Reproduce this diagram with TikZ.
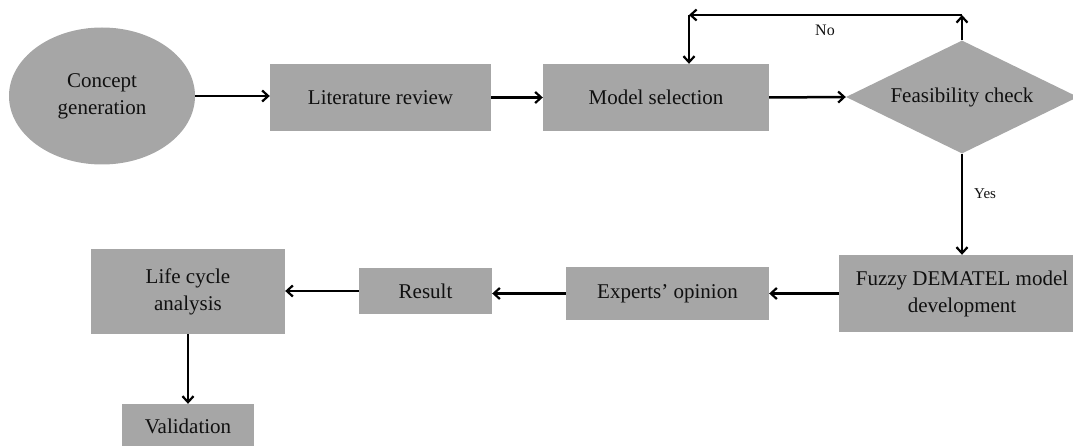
\documentclass[tikz,border=0pt]{standalone}
\usepackage{fontspec}
\setmainfont{Liberation Serif}
\usetikzlibrary{shapes.geometric,arrows.meta}
\definecolor{boxgray}{HTML}{A6A6A6}
\definecolor{txt}{HTML}{101010}
\begin{document}
\begin{tikzpicture}[x=1pt,y=-1pt,
  base/.style={fill=boxgray,draw=none,inner sep=0pt,align=center,text=txt,
    font=\fontsize{21}{27}\selectfont},
  procbox/.style={base,rectangle},
  termshape/.style={base,ellipse},
  decshape/.style={base,diamond,aspect=2.05},
  conn/.style={line width=2.5pt,-{Straight Barb[length=6pt,width=11pt,line width=2.2pt]}},
  lbl/.style={text=txt,inner sep=0pt}
]
\useasboundingbox (0,0) rectangle (1073,446);
\node[termshape,minimum width=186pt,minimum height=137pt] (concept) at (102,96) {Concept\\generation};
\node[procbox,minimum width=221pt,minimum height=67pt] (lit) at (380.5,97.5) {Literature review};
\node[procbox,minimum width=226pt,minimum height=67pt] (model) at (656,97.5) {Model selection};
\node[decshape,minimum width=232pt,minimum height=113pt] (feas) at (962,97) {Feasibility check};
\node[procbox,minimum width=246pt,minimum height=77pt] (fuzzy) at (962,293.5) {Fuzzy DEMATEL model\\development};
\node[procbox,minimum width=203pt,minimum height=53pt] (exp) at (667.5,293.5) {Experts’ opinion};
\node[procbox,minimum width=133pt,minimum height=46pt] (res) at (425.5,291) {Result};
\node[procbox,minimum width=194pt,minimum height=85pt] (lca) at (188,291.5) {Life cycle\\analysis};
\node[procbox,minimum width=132pt,minimum height=44pt] (val) at (188,426) {Validation};

\coordinate (nr) at (962,15);
\coordinate (nl) at (689,15);

\draw[conn] (concept.east) -- (concept.east -| lit.west);
\draw[conn] (lit.east) -- (model.west);
\draw[conn] (model.east) -- (feas.west);
\draw[conn] (feas.north) -- (nr);
\draw[conn] (nr) -- (nl);
\draw[conn] (nl) -- (nl |- model.north);
\draw[conn] (feas.south) -- (fuzzy.north);
\draw[conn] (fuzzy.west) -- (exp.east);
\draw[conn] (exp.west) -- (exp.west -| res.east);
\draw[conn] (res.west) -- (res.west -| lca.east);
\draw[conn] (lca.south) -- (val.north);

\node[lbl,font=\fontsize{16}{18}\selectfont] (nolbl) at (825,30) {No};
\node[lbl,font=\fontsize{15}{18}\selectfont,anchor=west] (yeslbl) at (974,194) {Yes};
\end{tikzpicture}
\end{document}
